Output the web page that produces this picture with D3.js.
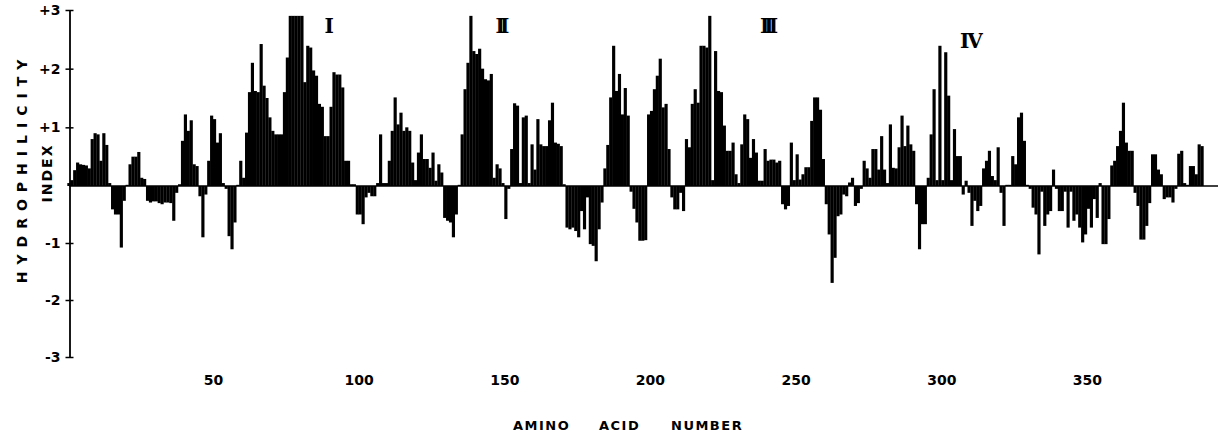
<!DOCTYPE html>
<html>
<head>
<meta charset="utf-8">
<script src="https://cdn.jsdelivr.net/npm/d3@7"></script>
<style>
  body { margin: 0; background: #fff; }
  svg { display: block; font-family: "DejaVu Sans", sans-serif; font-weight: bold; }
</style>
</head>
<body>
<svg id="chart"></svg>
<script>
let w = 1220;
let h = 436;

// hydrophilicity value for residues 1..390
const hydro = [
  0.05, 0.1, 0.27, 0.4, 0.37, 0.36, 0.35, 0.3, 0.8, 0.9,
  0.88, 0.43, 0.9, 0.7, 0.05, -0.41, -0.5, -0.5, -1.08, -0.26,
  0.02, 0.37, 0.5, 0.5, 0.58, 0.14, 0.12, -0.26, -0.29, -0.27,
  -0.27, -0.3, -0.32, -0.29, -0.29, -0.3, -0.61, -0.12, 0.03, 0.77,
  1.22, 0.94, 1.12, 0.37, 0.34, -0.18, -0.9, -0.15, 0.43, 1.2,
  1.14, 0.74, 0.9, 0.05, -0.05, -0.88, -1.11, -0.64, 0.02, 0.43,
  0.14, 0.91, 1.6, 2.1, 1.62, 1.6, 2.42, 1.71, 1.5, 1.17,
  0.94, 0.88, 0.88, 0.88, 1.6, 2.19, 2.9, 2.9, 2.9, 2.9,
  2.9, 1.77, 2.39, 2.36, 1.97, 1.88, 1.4, 1.35, 0.85, 0.85,
  1.35, 1.94, 1.9, 1.9, 1.68, 0.43, 0.43, 0.03, 0.03, -0.5,
  -0.5, -0.67, -0.2, -0.12, -0.18, -0.18, 0.05, 0.88, 0.05, 0.05,
  0.43, 0.94, 1.51, 1.05, 1.25, 0.94, 1.0, 0.94, 0.4, 0.1,
  0.57, 0.88, 0.46, 0.46, 0.31, 0.57, 0.09, 0.37, 0.23, -0.56,
  -0.61, -0.64, -0.9, -0.5, 0.02, 0.88, 1.65, 2.1, 2.9, 2.3,
  2.25, 2.34, 2.0, 1.82, 1.8, 1.91, 0.14, 0.37, 0.3, 0.05,
  -0.58, -0.05, 0.63, 1.41, 1.37, 0.05, 1.17, 1.2, 0.05, 0.71,
  0.28, 1.14, 0.71, 0.68, 0.68, 1.12, 1.42, 0.74, 0.72, 0.68,
  0.03, -0.73, -0.76, -0.73, -0.79, -0.9, -0.44, -0.76, -0.2, -1.02,
  -1.05, -1.32, -0.76, -0.29, 0.3, 0.7, 1.51, 2.39, 1.62, 1.91,
  1.22, 1.67, 1.2, -0.1, -0.4, -0.64, -0.96, -0.96, -0.95, 1.22,
  1.28, 1.65, 1.88, 2.17, 1.34, 1.4, 0.63, -0.2, -0.41, -0.41,
  -0.12, -0.44, 0.8, 0.66, 1.4, 1.65, 1.42, 2.39, 2.39, 2.36,
  2.9, 0.1, 2.3, 1.62, 1.6, 1.03, 0.6, 0.6, 0.74, 0.2,
  0.05, 0.71, 1.22, 1.14, 0.48, 0.8, 0.57, 0.09, 0.09, 0.63,
  0.43, 0.45, 0.45, 0.4, 0.43, -0.32, -0.41, -0.35, 0.74, 0.1,
  0.54, 0.11, 0.2, 0.32, 0.32, 1.11, 1.51, 1.51, 1.3, 0.46,
  -0.32, -0.85, -1.7, -1.26, -0.53, -0.5, -0.15, -0.18, 0.06, 0.14,
  -0.35, -0.3, -0.05, 0.43, 0.3, 0.14, 0.63, 0.63, 0.28, 0.85,
  0.28, 0.05, 1.05, 0.31, 0.3, 0.66, 1.2, 0.68, 1.03, 0.71,
  0.6, -0.32, -1.11, -0.67, -0.67, 0.14, 0.88, 1.65, 0.1, 2.39,
  0.1, 2.28, 1.54, 0.1, 0.97, 0.51, 0.51, -0.15, 0.09, -0.12,
  -0.7, -0.26, -0.44, -0.35, 0.3, 0.43, 0.6, 0.17, 0.1, 0.66,
  -0.12, -0.7, 0.02, 0.02, 0.51, 0.37, 1.17, 1.25, 0.77, 0.02,
  -0.05, -0.38, -0.5, -1.2, -0.1, -0.7, -0.5, -0.44, 0.28, -0.05,
  -0.44, -0.44, -0.1, -0.73, -0.1, -0.61, -0.5, -0.73, -0.99, -0.85,
  -0.4, -0.73, -0.23, -0.56, 0.05, -1.02, -1.02, -0.58, 0.35, 0.43,
  0.68, 0.94, 1.42, 0.74, 0.6, 0.6, -0.12, -0.35, -0.94, -0.94,
  -0.7, -0.3, 0.54, 0.54, 0.28, 0.2, -0.23, -0.2, -0.2, -0.29,
  -0.05, 0.55, 0.6, 0.05, 0.02, 0.34, 0.34, 0.2, 0.71, 0.68
];

const xTicks = [50, 100, 150, 200, 250, 300, 350];
const yTicks = [3, 2, 1, -1, -2, -3];
const yTickLabels = ['+3', '+2', '+1', '-1', '-2', '-3'];

// region labels: name, residue, level
const regionNames = ['I', 'II', 'III', 'IV'];
const regionAt = [89, 148.5, 240, 310];
const regionLevel = [2.72, 2.73, 2.73, 2.47];

const svg = d3.select('#chart')
  .attr('width', w)
  .attr('height', h)

const x = d3.scaleLinear()
  .domain([0.75, 395])
  .range([69.5, 1218])

const y = d3.scaleLinear()
  .domain([-3, 0, 3])
  .range([357, 186, 10])

// bars
svg.append('g')
  .selectAll('rect')
  .data(hydro)
  .enter()
  .append('rect')
  .attr('x', (d, i) => x(i))
  .attr('width', (d, i) => x(i + 1) - x(i) + 0.25)
  .attr('y', d => y(Math.max(0, d)))
  .attr('height', d => Math.abs(y(d) - y(0)))
  .attr('fill', '#000')

// zero line
svg.append('line')
  .attr('x1', x.range()[0])
  .attr('x2', x.range()[1])
  .attr('y1', y(0))
  .attr('y2', y(0))
  .attr('stroke', '#000')
  .attr('stroke-width', 1.6)

// y axis
const yAxis = d3.axisLeft(y)
  .tickValues(yTicks)
  .tickFormat((d, i) => yTickLabels[i])
  .tickSizeInner(4)
  .tickSizeOuter(0)
  .tickPadding(5)

const yg = svg.append('g')
  .attr('transform', `translate(${x.range()[0]},0)`)
  .call(yAxis)

yg.select('.domain')
  .attr('stroke-width', 1.8)
yg.selectAll('.tick line')
  .attr('x2', 4)
  .attr('x1', -4)
  .attr('stroke-width', 1.5)
yg.selectAll('.tick text')
  .attr('font-size', 14)
  .attr('font-weight', 'bold')
  .attr('font-family', '"DejaVu Sans", sans-serif')

// x axis labels only
const xg = svg.append('g')
  .attr('transform', 'translate(0,372)')
  .call(d3.axisBottom(x).tickValues(xTicks).tickSize(0).tickPadding(3))

xg.select('.domain').remove()
xg.selectAll('.tick text')
  .attr('font-size', 14)
  .attr('font-weight', 'bold')
  .attr('font-family', '"DejaVu Sans", sans-serif')

// axis titles
const xTitle = ['AMINO', 'ACID', 'NUMBER'];
const xTitleStart = [513, 599, 671];
svg.selectAll('.xtitle')
  .data(xTitle)
  .enter()
  .append('text')
  .attr('class', 'xtitle')
  .attr('x', (d, i) => xTitleStart[i])
  .attr('y', 430)
  .attr('font-size', 13)
  .attr('letter-spacing', 1.5)
  .text(d => d)

svg.append('text')
  .attr('transform', 'translate(27,168) rotate(-90)')
  .attr('text-anchor', 'middle')
  .attr('font-size', 14)
  .attr('letter-spacing', 7)
  .text('HYDROPHILICITY')

svg.append('text')
  .attr('transform', 'translate(52,173) rotate(-90)')
  .attr('text-anchor', 'middle')
  .attr('font-size', 14)
  .attr('letter-spacing', 2)
  .text('INDEX')

// region numerals
svg.selectAll('.region')
  .data(regionNames)
  .enter()
  .append('text')
  .attr('class', 'region')
  .attr('x', (d, i) => x(regionAt[i]))
  .attr('y', (d, i) => y(regionLevel[i]) + 7)
  .attr('text-anchor', 'middle')
  .attr('font-family', '"DejaVu Serif", serif')
  .attr('font-size', 20)
  .attr('letter-spacing', (d) => d === 'IV' ? -2 : -5)
  .text(d => d)
</script>
</body>
</html>
